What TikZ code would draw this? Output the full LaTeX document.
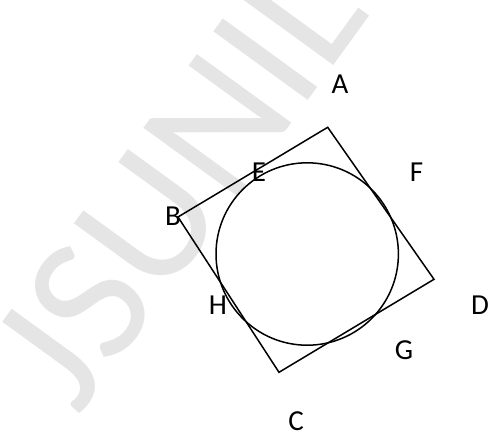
\documentclass[tikz,border=0pt]{standalone}
\usepackage{fontspec}
\setmainfont{Carlito}
\begin{document}
\begin{tikzpicture}[x=1pt,y=-1pt,
  lbl/.style={font=\fontsize{29}{31}\selectfont, inner sep=0pt},
  edge/.style={line width=1.5pt, line join=miter}]
\useasboundingbox (0,0) rectangle (495,437);
\node[text=black!10, font=\fontsize{182}{190}\selectfont, rotate=54, anchor=base, inner sep=0pt] (wm) at (225,215) {JSUNIL};
\coordinate (A) at (327.7,127.3);
\coordinate (B) at (178,217);
\coordinate (C) at (279,372.3);
\coordinate (D) at (434,279.3);
\coordinate (O) at (307.2,254);
\draw[edge] (A) -- (B) -- (C) -- (D) -- cycle;
\draw[edge] (O) circle[radius=91.2];
\node[lbl] (lA) at (340,84) {A};
\node[lbl] (lE) at (259,172) {E};
\node[lbl] (lF) at (416.5,172) {F};
\node[lbl] (lB) at (173,216) {B};
\node[lbl] (lH) at (218,305) {H};
\node[lbl] (lD) at (480,305) {D};
\node[lbl] (lG) at (404,350) {G};
\node[lbl] (lC) at (296,421) {C};
\end{tikzpicture}
\end{document}
